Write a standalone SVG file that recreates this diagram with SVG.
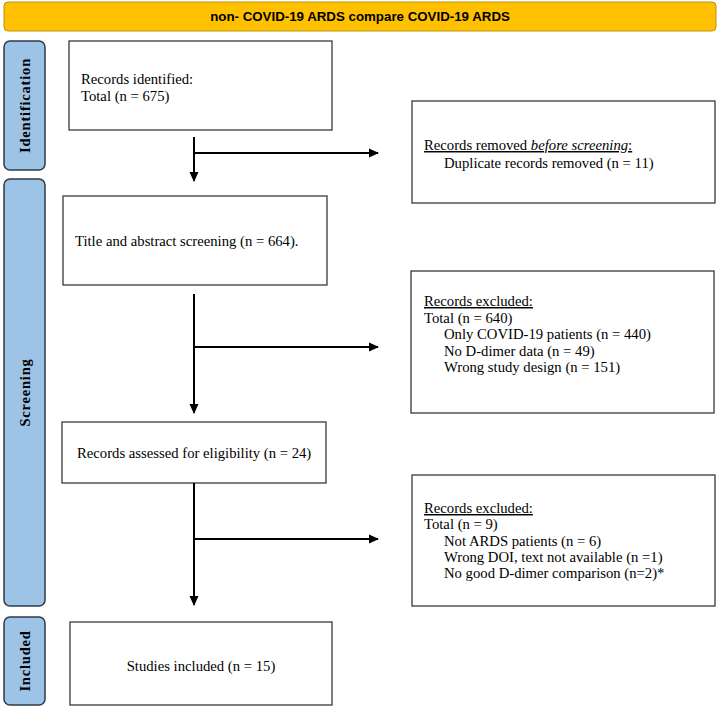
<svg xmlns="http://www.w3.org/2000/svg" width="720" height="708" viewBox="0 0 720 708">
<style>
.box{fill:#fff;stroke:#3a3a3a;stroke-width:1.3}
.side{fill:#9dc3e6;stroke:#2e3a48;stroke-width:1.5}
.t{font-family:"Liberation Serif","Times New Roman",serif;font-size:14.7px;fill:#000}
.s{font-family:"Liberation Serif","Times New Roman",serif;font-size:14.5px;font-weight:bold;fill:#000;letter-spacing:0.8px}
.c{stroke:#000;stroke-width:2;fill:none}
</style>
<defs>
<marker id="ah" markerWidth="10" markerHeight="10" refX="9" refY="5" orient="auto" markerUnits="userSpaceOnUse">
<path d="M0,0.5 L10,5 L0,9.5 Z" fill="#000"/>
</marker>
</defs>
<rect width="720" height="708" fill="#fff"/>
<g id="header">
<rect x="4" y="2" width="712" height="29" rx="4" fill="#ffc000" stroke="#b8950a" stroke-width="1"/>
<text x="360" y="21" text-anchor="middle" font-family="'Liberation Sans',Arial,sans-serif" font-size="13.3" font-weight="bold">non- COVID-19 ARDS compare COVID-19 ARDS</text>
</g>
<g id="side-identification">
<rect class="side" x="4" y="41" width="41" height="129" rx="6"/>
<text class="s" transform="translate(30,105.5) rotate(-90)" text-anchor="middle">Identification</text>
</g>
<g id="side-screening">
<rect class="side" x="4" y="179" width="41" height="427" rx="6"/>
<text class="s" transform="translate(30,392.5) rotate(-90)" text-anchor="middle">Screening</text>
</g>
<g id="side-included">
<rect class="side" x="4" y="617" width="41" height="88" rx="6"/>
<text class="s" transform="translate(30,661) rotate(-90)" text-anchor="middle">Included</text>
</g>
<g id="identified">
<rect class="box" x="69" y="41" width="263" height="89"/>
<text class="t" x="81" y="84">Records identified:</text>
<text class="t" x="81" y="101">Total (n = 675)</text>
</g>
<g id="removed">
<rect class="box" x="412" y="101" width="303" height="102"/>
<text class="t" x="424" y="150" text-decoration="underline">Records removed <tspan font-style="italic">before screening</tspan>:</text>
<text class="t" x="444" y="168">Duplicate records removed (n = 11)</text>
</g>
<g id="screening">
<rect class="box" x="63" y="196" width="264" height="89"/>
<text class="t" x="75" y="246">Title and abstract screening (n = 664).</text>
</g>
<g id="excluded1">
<rect class="box" x="411" y="271" width="303" height="142"/>
<text class="t" x="424" y="306" text-decoration="underline">Records excluded:</text>
<text class="t" x="424" y="323">Total (n = 640)</text>
<text class="t" x="444" y="339">Only COVID-19 patients (n = 440)</text>
<text class="t" x="444" y="356">No D-dimer data (n = 49)</text>
<text class="t" x="444" y="372">Wrong study design (n = 151)</text>
</g>
<g id="assessed">
<rect class="box" x="62" y="422" width="264" height="61"/>
<text class="t" x="77" y="458">Records assessed for eligibility (n = 24)</text>
</g>
<g id="excluded2">
<rect class="box" x="412" y="475" width="303" height="131"/>
<text class="t" x="424" y="513" text-decoration="underline">Records excluded:</text>
<text class="t" x="424" y="529">Total (n = 9)</text>
<text class="t" x="444" y="546">Not ARDS patients (n = 6)</text>
<text class="t" x="444" y="562">Wrong DOI, text not available (n =1)</text>
<text class="t" x="444" y="578">No good D-dimer comparison (n=2)*</text>
</g>
<g id="included">
<rect class="box" x="70" y="622" width="262" height="83"/>
<text class="t" x="201" y="671" text-anchor="middle">Studies included (n = 15)</text>
</g>
<g id="connectors">
<line class="c" x1="194" y1="137" x2="194" y2="181" marker-end="url(#ah)"/>
<line class="c" x1="194" y1="153" x2="378" y2="153" marker-end="url(#ah)"/>
<line class="c" x1="194" y1="294" x2="194" y2="413" marker-end="url(#ah)"/>
<line class="c" x1="194" y1="347" x2="378" y2="347" marker-end="url(#ah)"/>
<line class="c" x1="194" y1="483" x2="194" y2="605" marker-end="url(#ah)"/>
<line class="c" x1="194" y1="539" x2="378" y2="539" marker-end="url(#ah)"/>
</g>
</svg>
